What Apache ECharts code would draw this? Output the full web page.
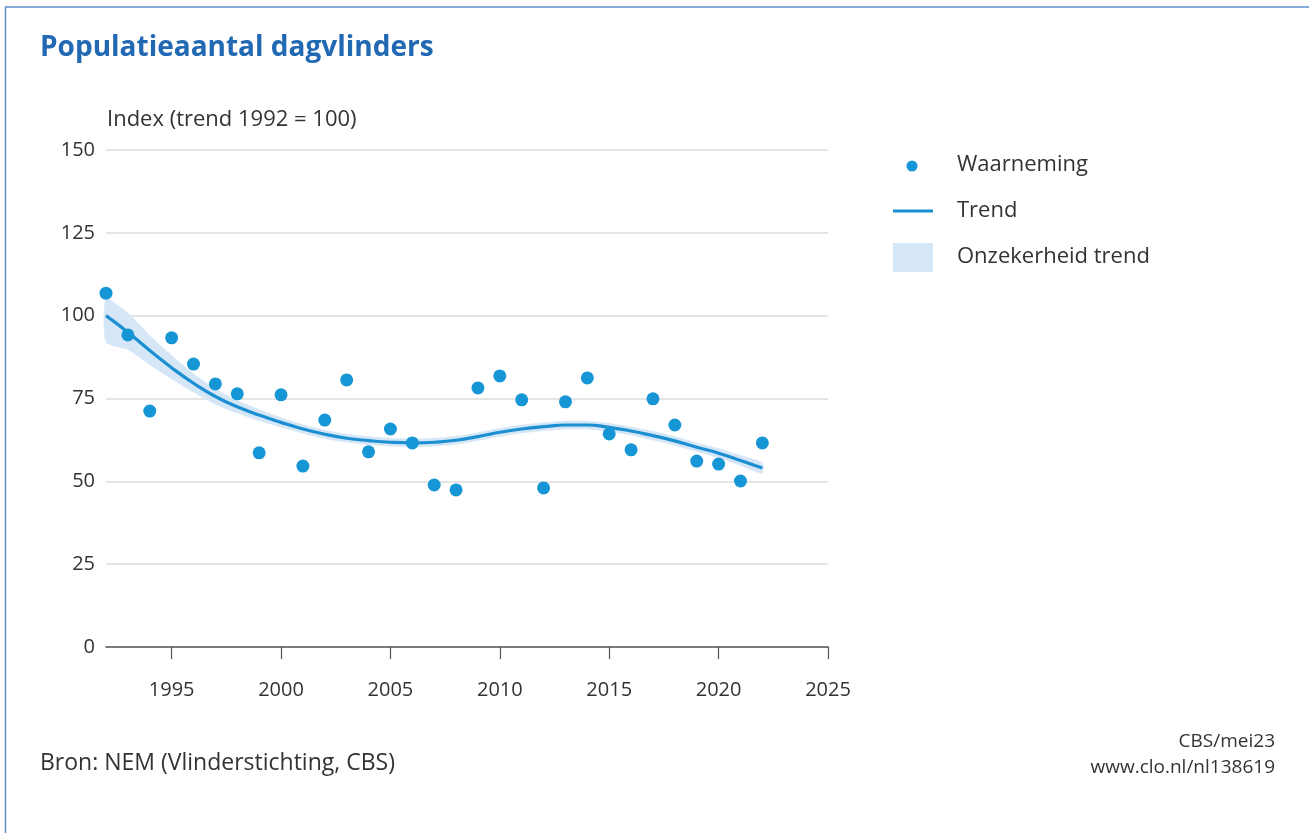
<!DOCTYPE html>
<html><head><meta charset="utf-8">
<script src="https://cdn.jsdelivr.net/npm/echarts@6/dist/echarts.min.js"></script>
<style>html,body{margin:0;padding:0;background:#fff}#c{width:1309px;height:833px}</style>
</head><body><div id="c"></div>
<script>
const years = [1992,1993,1994,1995,1996,1997,1998,1999,2000,2001,2002,2003,2004,2005,2006,2007,2008,2009,2010,2011,2012,2013,2014,2015,2016,2017,2018,2019,2020,2021,2022];
const observed = [106.8,94.2,71.2,93.3,85.4,79.4,76.4,58.6,76.1,54.6,68.5,80.6,58.9,65.8,61.6,48.9,47.4,78.2,81.8,74.6,48.0,74.0,81.2,64.3,59.5,74.9,67.0,56.1,55.2,50.1,61.6];
const trend = [100,95,89.5,84.3,79.6,75.6,72.5,70,67.8,65.8,64.2,63,62.3,61.8,61.6,61.8,62.4,63.5,64.8,65.8,66.5,67,67,66.3,65.2,63.8,62.2,60.3,58.5,56.3,54];
const bandLower = [92,89.8,85.2,80.9,76.9,73.3,70.6,68.3,66.4,64.5,62.9,61.8,61.1,60.6,60.4,60.6,61.2,62.3,63.6,64.6,65.3,65.8,65.8,65.1,64,62.5,60.9,59,57.1,54.8,52.4];
const bandUpper = [105,100.8,94,88,82.5,77.9,74.4,71.7,69.2,67.1,65.5,64.2,63.5,63,62.8,63,63.6,64.7,66,67,67.7,68.2,68.2,67.5,66.4,65.1,63.5,61.6,59.9,57.8,55.6];
const yTicks = [0,25,50,75,100,125,150];
const xTicks = [1995,2000,2005,2010,2015,2020,2025];

const blue = '#1796d6';
const bandColor = '#d5e7f6';
const chart = echarts.init(document.getElementById('c'), null, {renderer:'canvas'});
const font = "'Open Sans', 'Noto Sans', sans-serif";
const txt = (x,y,text,size,extra) => ({type:'text',x:0,y:0,style:Object.assign({x:x,y:y,text:text,font:size+"px "+font,fill:'#333',verticalAlign:'middle'},extra||{})});
chart.setOption({
  animation:false,
  textStyle:{fontFamily:font},
  grid:{left:106,right:481,top:150,bottom:186,containLabel:false},
  xAxis:{type:'value',min:1992,max:2025,
    axisLine:{show:true,lineStyle:{color:'#555',width:1.5}},
    axisTick:{show:true,length:12,customValues:xTicks,lineStyle:{color:'#555',width:1.2}},
    axisLabel:{customValues:xTicks,color:'#333',fontSize:20,margin:33,fontFamily:font,formatter:v=>String(v)},
    splitLine:{show:false}},
  yAxis:{type:'value',min:0,max:150,interval:25,
    axisLine:{show:false},axisTick:{show:false},
    axisLabel:{color:'#333',fontSize:20,margin:11,fontFamily:font,customValues:yTicks},
    splitLine:{show:true,lineStyle:{color:'#dcdcdc',width:1.5}}},
  series:[
    {name:'Onzekerheid trend',type:'custom',silent:true,z:1,
      data:[0],
      renderItem:function(params, api){
        const up = years.map((y,i)=>api.coord([y,bandUpper[i]]));
        const lo = years.map((y,i)=>api.coord([y,bandLower[i]])).reverse();
        return {type:'polygon',shape:{points:up.concat(lo),smooth:0.2},style:{fill:bandColor,stroke:bandColor,lineWidth:0.5}};
      }},
    {name:'Trend',type:'line',data:years.map((y,i)=>[y,trend[i]]),symbol:'none',smooth:true,lineStyle:{color:'#1b8fd2',width:3.2},z:3},
    {name:'Waarneming',type:'scatter',data:years.map((y,i)=>[y,observed[i]]),symbolSize:13,itemStyle:{color:blue,opacity:1},z:4}
  ],
  graphic:[
    {type:'rect',shape:{x:5.5,y:7,width:1320,height:840},style:{fill:'none',stroke:'#5f8fcf',lineWidth:1.5}},
    txt(40,48,'Populatieaantal dagvlinders',28,{font:"bold 28px "+font,fill:'#2169b3'}),
    txt(107,120,'Index (trend 1992 = 100)',22),
    {type:'circle',shape:{cx:912,cy:166,r:5.5},style:{fill:blue}},
    {type:'line',shape:{x1:893,y1:211,x2:933,y2:211},style:{stroke:'#1b8fd2',lineWidth:3.2}},
    {type:'rect',shape:{x:893,y:243,width:40,height:29},style:{fill:bandColor}},
    txt(957,165,'Waarneming',22),
    txt(957,211,'Trend',22),
    txt(957,257,'Onzekerheid trend',22),
    txt(40,763,'Bron: NEM (Vlinderstichting, CBS)',23),
    txt(1275,742,'CBS/mei23',19,{align:'right'}),
    txt(1275,768,'www.clo.nl/nl138619',19,{align:'right'})
  ]
});
</script></body></html>
